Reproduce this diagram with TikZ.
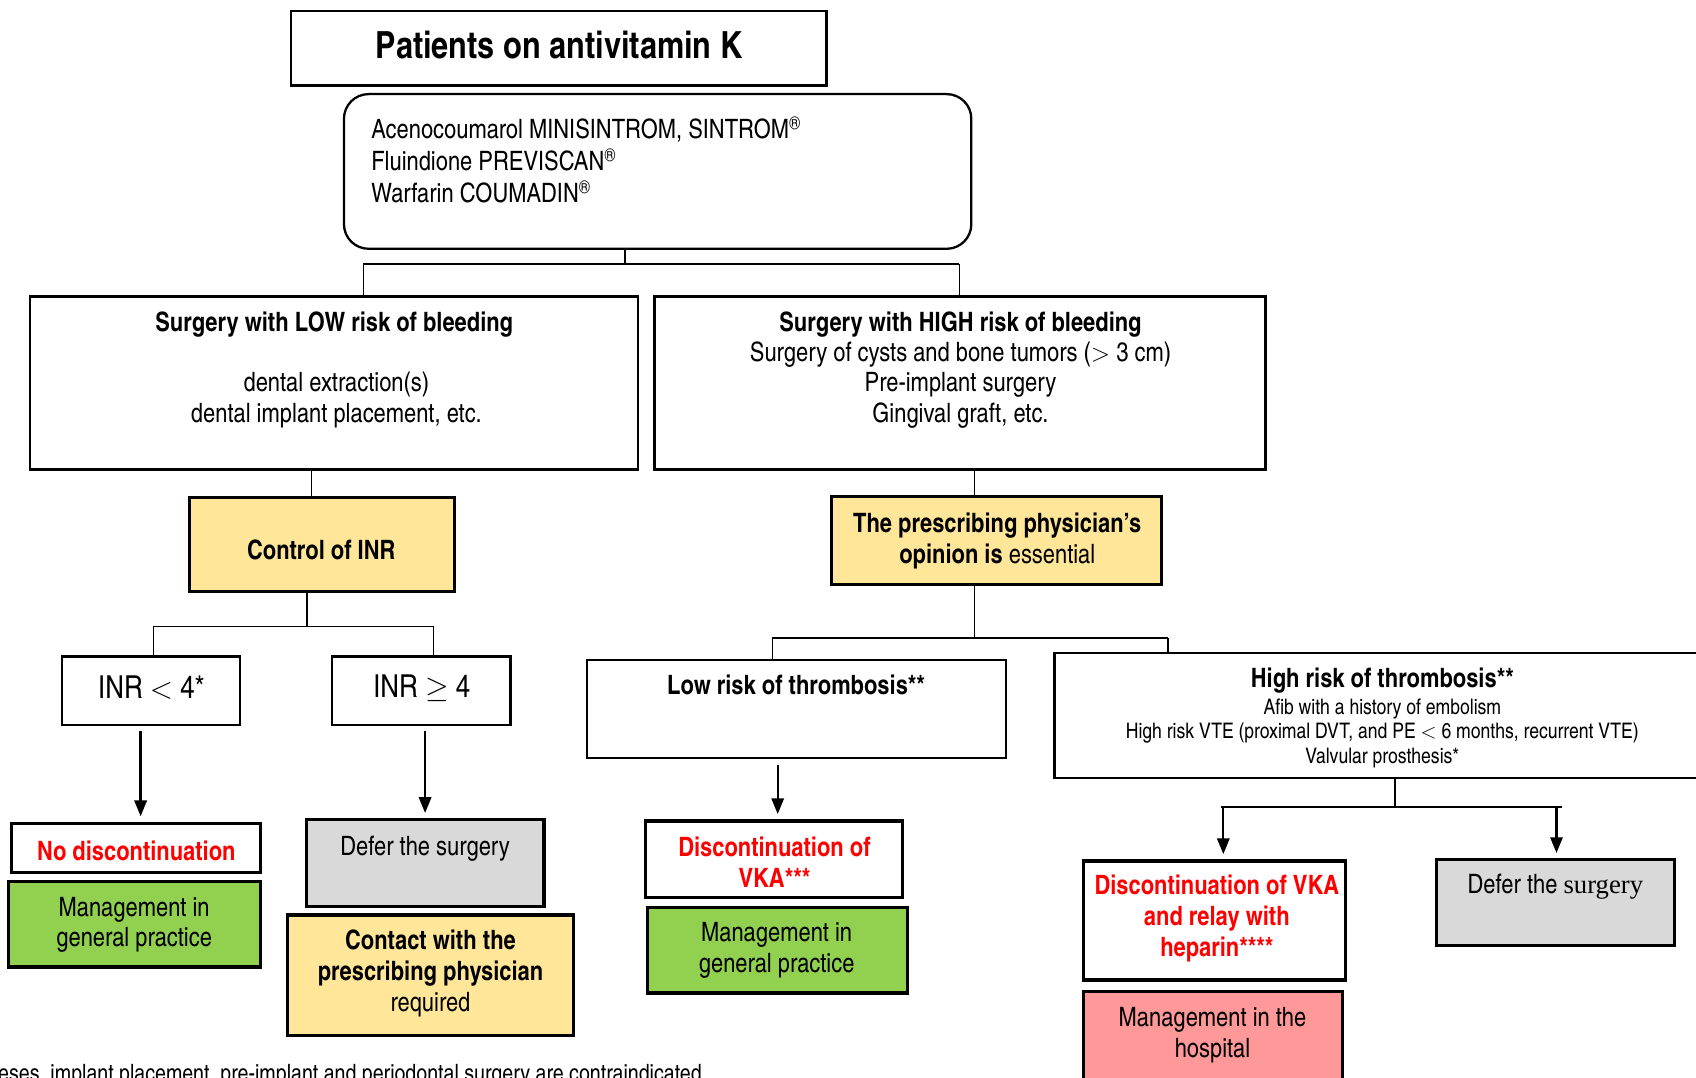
\documentclass[tikz,border=0pt]{standalone}
\usepackage{fontspec}
\setmainfont{TeX Gyre Heros Cn}
\newfontfamily\serifrm{Liberation Serif}
\usetikzlibrary{arrows.meta,fit}
\definecolor{yel}{HTML}{FFE699}
\definecolor{grn}{HTML}{92D050}
\definecolor{gry}{HTML}{D9D9D9}
\definecolor{pnk}{HTML}{FF9999}
\definecolor{rd}{HTML}{FF0000}
\begin{document}
\begin{tikzpicture}[x=0.021632cm,y=-0.021632cm,
  box/.style={draw=black, line width=1.3pt, inner sep=0pt, rectangle},
  cbox/.style={box, line width=1.8pt},
  conn/.style={line width=0.8pt},
  tconn/.style={line width=1.3pt},
  arr/.style={line width=1.3pt, -{Triangle[length=9pt,width=7pt]}, shorten <=3pt, shorten >=3pt},
  txt/.style={inner sep=0pt, align=center, font=\fontsize{15.2}{17.6}\selectfont},
  btxt/.style={txt, font=\fontsize{15.2}{17.6}\selectfont\bfseries},
  rtxt/.style={btxt, text=rd},
  stxt/.style={txt, font=\fontsize{12.2}{13.9}\selectfont},
  itxt/.style={txt, font=\fontsize{18}{21}\selectfont}]
\useasboundingbox (0,0) rectangle (1568,996);
\clip (0,0) rectangle (1568,996);

% ---- boxes ----
\node[box, fit={(269,10) (764,79)}] (title) {};
\node[box, rounded corners=14pt, fit={(318,87) (898,230)}] (drugs) {};
\node[box, fit={(28,274) (590,434)}] (lowb) {};
\node[box, fit={(605,274) (1170,434)}] (highb) {};
\node[cbox, fill=yel, fit={(175,460) (420,547)}] (ctrl) {};
\node[cbox, fill=yel, fit={(769,459) (1074,540)}] (presc) {};
\node[box, fit={(57,607) (222,670)}] (inrlo) {};
\node[box, fit={(307,607) (472,670)}] (inrhi) {};
\node[box, fit={(543,610) (930,701)}] (lowt) {};
\node[box, fit={(975,604) (1590,719)}] (hight) {};
\node[cbox, fill=white, fit={(11,761) (241,807)}] (nodisc) {};
\node[cbox, fill=grn, fit={(8,815) (241,894)}] (mgp1) {};
\node[cbox, fill=gry, fit={(283,758) (503,838)}] (defer1) {};
\node[cbox, fill=yel, fit={(266,846) (530,957)}] (contact) {};
\node[cbox, fill=white, fit={(597,759) (834,830)}] (disc) {};
\node[cbox, fill=grn, fit={(599,839) (839,918)}] (mgp2) {};
\node[cbox, fill=white, fit={(1002,796) (1244,906)}] (discH) {};
\node[cbox, fill=pnk, fit={(1002,917) (1241,1010)}] (hosp) {};
\node[cbox, fill=gry, fit={(1328,795) (1548,874)}] (defer2) {};

% ---- texts ----
\node[inner sep=0pt, font=\fontsize{21.3}{25}\selectfont\bfseries] (title-t) at (517,42) {Patients on antivitamin K};
\node[txt, align=left, anchor=west, font=\fontsize{15.2}{18.1}\selectfont] (drugs-t) at (343,148) {Acenocoumarol MINISINTROM, SINTROM\textsuperscript{®}\\Fluindione PREVISCAN\textsuperscript{®}\\Warfarin COUMADIN\textsuperscript{®}};
\node[btxt] (lowb-h) at (309,300) {Surgery with LOW risk of bleeding};
\node[txt] (lowb-t) at (311,370) {dental extraction(s)\\dental implant placement, etc.};
\node[btxt] (highb-h) at (888,300) {Surgery with HIGH risk of bleeding};
\node[txt] (highb-t) at (888,356) {Surgery of cysts and bone tumors ($>$ 3 cm)\\Pre-implant surgery\\Gingival graft, etc.};
\node[btxt] (ctrl-t) at (297,508) {Control of INR};
\node[txt] (presc-t) at (922,500) {\textbf{The prescribing physician’s}\\\textbf{opinion is} essential};
\node[itxt] (inrlo-t) at (140,636) {INR $<$ 4*};
\node[itxt] (inrhi-t) at (390,636) {INR $\geq$ 4};
\node[btxt] (lowt-t) at (736,633) {Low risk of thrombosis**};
\node[btxt] (hight-h) at (1278,629) {High risk of thrombosis**};
\node[stxt] (hight-t) at (1278,678) {Afib with a history of embolism\\High risk VTE (proximal DVT, and PE $<$ 6 months, recurrent VTE)\\Valvular prosthesis*};
\node[rtxt] (nodisc-t) at (126,787) {No discontinuation};
\node[txt] (mgp1-t) at (124,855) {Management in\\general practice};
\node[txt] (defer1-t) at (393,785) {Defer the surgery};
\node[txt] (contact-t) at (398,900) {\textbf{Contact with the}\\\textbf{prescribing physician}\\required};
\node[rtxt] (disc-t) at (716,797) {Discontinuation of\\VKA***};
\node[txt] (mgp2-t) at (718,879) {Management in\\general practice};
\node[rtxt] (discH-t) at (1125,849) {Discontinuation of VKA\\and relay with\\heparin****};
\node[txt] (hosp-t) at (1121,957) {Management in the\\hospital};
\node[txt] (defer2-t) at (1438,820) {Defer the {\serifrm surgery}};
\node[txt, anchor=base west, font=\fontsize{13.6}{15}\selectfont] (foot) at (-2,1000) {eses, implant placement, pre-implant and periodontal surgery are contraindicated};

% ---- connectors ----
\coordinate (j1) at (578,244);
\coordinate (j1l) at (336,244);
\coordinate (j1r) at (887,244);
\draw[conn] (drugs.south -| j1) -- (j1);
\draw[conn] (j1l) -- (j1r);
\draw[conn] (j1l) -- (lowb.north -| j1l);
\draw[conn] (j1r) -- (highb.north -| j1r);

\coordinate (c1) at (288,0);
\draw[conn] (lowb.south -| c1) -- (ctrl.north -| c1);
\coordinate (j2) at (284,579);
\coordinate (j2l) at (142,579);
\coordinate (j2r) at (401,579);
\draw[conn] (ctrl.south -| j2) -- (j2);
\draw[conn] (j2l) -- (j2r);
\draw[conn] (j2l) -- (inrlo.north -| j2l);
\draw[conn] (j2r) -- (inrhi.north -| j2r);

\coordinate (a1) at (130,0);
\coordinate (a2) at (393,0);
\draw[arr] (inrlo.south -| a1) -- (nodisc.north -| a1);
\draw[arr] (inrhi.south -| a2) -- (defer1.north -| a2);

\coordinate (c2) at (901,0);
\draw[conn] (highb.south -| c2) -- (presc.north -| c2);
\coordinate (j3) at (901,590);
\coordinate (j3l) at (714,590);
\coordinate (j3r) at (1080,590);
\draw[conn] (presc.south -| j3) -- (j3);
\draw[conn] (j3l) -- (j3r);
\draw[conn] (j3l) -- (lowt.north -| j3l);
\draw[conn] (j3r) -- (hight.north -| j3r);

\coordinate (a3) at (719,0);
\draw[arr] (lowt.south -| a3) -- (disc.north -| a3);

\coordinate (j4) at (1290,746);
\coordinate (j4l) at (1129,746);
\coordinate (j4r) at (1444,746);
\draw[tconn] (hight.south -| j4) -- (j4);
\draw[tconn] (j4l) -- (j4r);
\coordinate (a4) at (1131,746);
\coordinate (a5) at (1439,746);
\draw[arr, shorten <=0pt] (a4) -- (discH.north -| a4);
\draw[arr, shorten <=0pt] (a5) -- (defer2.north -| a5);
\end{tikzpicture}
\end{document}
